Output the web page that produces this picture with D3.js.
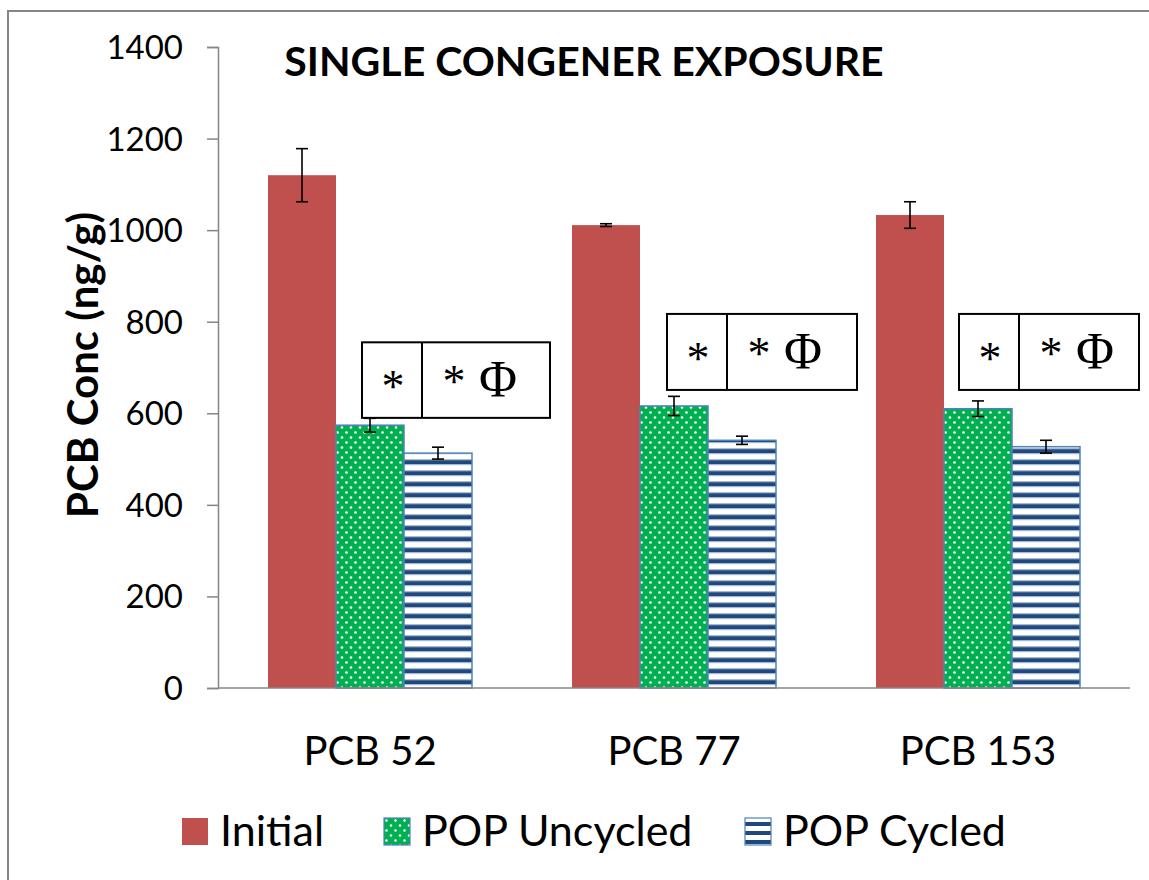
<!DOCTYPE html>
<html>
<head>
<meta charset="utf-8">
<script src="https://cdn.jsdelivr.net/npm/d3@7"></script>
<style>
	body { margin: 0; background: #fff; }
	svg text { font-family: Lato, "Open Sans", sans-serif; fill: #000; }
</style>
</head>
<body>
<div id="chart"></div>
<script>
var categories = ["PCB 52", "PCB 77", "PCB 153"];
var seriesNames = ["Initial", "POP Uncycled", "POP Cycled"];
var initialVals = [1120, 1011, 1033];
var uncycledVals = [574, 616, 610];
var cycledVals = [513, 541, 527];
var initialErr = [58, 3, 29];
var uncycledErr = [15, 21, 17];
var cycledErr = [13, 9, 14];
var yTicks = [0, 200, 400, 600, 800, 1000, 1200, 1400];
// significance boxes: left cell and right cell text
var boxLeft = ["*", "*", "*"];
var boxRight = ["*", "*", "*"];
var boxSymbol = ["\u03A6", "\u03A6", "\u03A6"];
var boxLow = [590, 651, 651];
var boxHigh = [755, 817, 817];

var W = 1149, H = 880;
var colors = ["#C0504D", "url(#dots)", "url(#stripes)"];
var swatchFill = ["#C0504D", "url(#dotsLeg)", "url(#stripesLeg)"];
var serif = "'Liberation Serif', 'DejaVu Serif', serif";

var svg = d3.select("#chart").append("svg")
	.attr("width", W)
	.attr("height", H);

// patterns
var defs = svg.append("defs");
var dots = defs.append("pattern")
	.attr("id", "dots")
	.attr("patternUnits", "userSpaceOnUse")
	.attr("width", 9).attr("height", 10);
dots.append("rect").attr("width", 9).attr("height", 10).attr("fill", "#00B050");
dots.append("circle").attr("cx", 2.5).attr("cy", 2.5).attr("r", 1.3).attr("fill", "#fff");
dots.append("circle").attr("cx", 7).attr("cy", 7.5).attr("r", 1.3).attr("fill", "#fff");

var stripes = defs.append("pattern")
	.attr("id", "stripes")
	.attr("patternUnits", "userSpaceOnUse")
	.attr("y", 4)
	.attr("width", 10).attr("height", 11);
stripes.append("rect").attr("width", 10).attr("height", 11).attr("fill", "#fff");
stripes.append("rect").attr("y", 4).attr("width", 10).attr("height", 1.2).attr("fill", "#A7B9D0");
stripes.append("rect").attr("y", 5.2).attr("width", 10).attr("height", 3.8).attr("fill", "#1F497D");
stripes.append("rect").attr("y", 9).attr("width", 10).attr("height", 1.2).attr("fill", "#A7B9D0");

var dotsLeg = defs.append("pattern")
	.attr("id", "dotsLeg")
	.attr("patternUnits", "userSpaceOnUse")
	.attr("width", 9).attr("height", 10);
dotsLeg.append("rect").attr("width", 9).attr("height", 10).attr("fill", "#00B050");
dotsLeg.append("circle").attr("cx", 2.5).attr("cy", 2.5).attr("r", 1.2).attr("fill", "#fff");
dotsLeg.append("circle").attr("cx", 7).attr("cy", 7.5).attr("r", 1.2).attr("fill", "#fff");

var stripesLeg = defs.append("pattern")
	.attr("id", "stripesLeg")
	.attr("patternUnits", "userSpaceOnUse")
	.attr("y", 1)
	.attr("width", 10).attr("height", 9);
stripesLeg.append("rect").attr("width", 10).attr("height", 9).attr("fill", "#fff");
stripesLeg.append("rect").attr("y", 3).attr("width", 10).attr("height", 4).attr("fill", "#1F497D");

// outer frame
svg.append("rect")
	.attr("x", 8).attr("y", 11)
	.attr("width", W + 50).attr("height", H + 50)
	.attr("fill", "none")
	.attr("stroke", "#868686")
	.attr("stroke-width", 2);

// scales
var x0 = d3.scaleBand().domain(categories).range([218, 1130]);
var x1 = d3.scaleBand().domain(seriesNames).range([50, x0.bandwidth() - 50]);
var y = d3.scaleLinear().domain([0, 1400]).range([688, 47]);

var rows = categories.map(function(c, i) {
	return {
		cat: c,
		vals: [
			{ s: seriesNames[0], v: initialVals[i], e: initialErr[i], k: 0 },
			{ s: seriesNames[1], v: uncycledVals[i], e: uncycledErr[i], k: 1 },
			{ s: seriesNames[2], v: cycledVals[i], e: cycledErr[i], k: 2 }
		]
	};
});

// y axis
var yAxis = svg.append("g")
	.attr("transform", "translate(218,0)")
	.call(d3.axisLeft(y).tickValues(yTicks).tickFormat(d3.format("d")).tickSize(11).tickPadding(24));
yAxis.select(".domain").attr("stroke", "#868686").attr("stroke-width", 1.5);
yAxis.selectAll(".tick line").attr("stroke", "#868686").attr("stroke-width", 1.5);
yAxis.selectAll(".tick text")
	.style("font-family", "Lato, sans-serif")
	.style("font-size", "33px")
	.attr("dy", "0.35em");

// bars
var groups = svg.selectAll(".grp")
	.data(rows)
	.enter().append("g")
	.attr("class", "grp")
	.attr("transform", function(d) { return "translate(" + x0(d.cat) + ",0)"; });

groups.selectAll("rect")
	.data(function(d) { return d.vals; })
	.enter().append("rect")
	.attr("x", function(d) { return x1(d.s); })
	.attr("y", function(d) { return y(d.v); })
	.attr("width", x1.bandwidth())
	.attr("height", function(d) { return y(0) - y(d.v); })
	.attr("fill", function(d) { return colors[d.k]; })
	.attr("stroke", function(d) { return d.k === 0 ? "none" : "#4F81BD"; })
	.attr("stroke-width", 1.5);

// x axis line
svg.append("line")
	.attr("x1", 218).attr("x2", 1130)
	.attr("y1", y(0)).attr("y2", y(0))
	.attr("stroke", "#868686")
	.attr("stroke-width", 1.5);

// error bars
var eb = groups.selectAll(".err")
	.data(function(d) { return d.vals; })
	.enter().append("g")
	.attr("class", "err")
	.attr("stroke", "#000")
	.attr("stroke-width", 1.6);
eb.append("line")
	.attr("x1", function(d) { return x1(d.s) + x1.bandwidth() / 2; })
	.attr("x2", function(d) { return x1(d.s) + x1.bandwidth() / 2; })
	.attr("y1", function(d) { return y(d.v + d.e); })
	.attr("y2", function(d) { return y(d.v - d.e); });
eb.selectAll(".cap")
	.data(function(d) { return [d.v + d.e, d.v - d.e].map(function(t) { return { s: d.s, t: t }; }); })
	.enter().append("line")
	.attr("x1", function(d) { return x1(d.s) + x1.bandwidth() / 2 - 6; })
	.attr("x2", function(d) { return x1(d.s) + x1.bandwidth() / 2 + 6; })
	.attr("y1", function(d) { return y(d.t); })
	.attr("y2", function(d) { return y(d.t); });

// significance boxes
var boxX = [144, 145, 133];
var boxW = [188, 190, 180];
categories.forEach(function(c, i) {
	var bx = x0(c) + boxX[i];
	var by = y(boxHigh[i]);
	var bh = y(boxLow[i]) - y(boxHigh[i]);
	var g = svg.append("g");
	g.append("rect")
		.attr("x", bx).attr("y", by)
		.attr("width", boxW[i]).attr("height", bh)
		.attr("fill", "#fff")
		.attr("stroke", "#000")
		.attr("stroke-width", 2);
	g.append("line")
		.attr("x1", bx + 60).attr("x2", bx + 60)
		.attr("y1", by).attr("y2", by + bh)
		.attr("stroke", "#000")
		.attr("stroke-width", 2);
	g.append("text")
		.attr("x", bx + 31).attr("y", by + bh / 2 + 22)
		.attr("text-anchor", "middle")
		.style("font-family", serif)
		.style("font-size", "46px")
		.text(boxLeft[i]);
	g.append("text")
		.attr("x", bx + 92).attr("y", by + bh / 2 + 17)
		.attr("text-anchor", "middle")
		.style("font-family", serif)
		.style("font-size", "46px")
		.text(boxRight[i]);
	g.append("text")
		.attr("x", bx + 136).attr("y", by + bh / 2 + 17)
		.attr("text-anchor", "middle")
		.style("font-family", serif)
		.style("font-size", "52px")
		.text(boxSymbol[i]);
});

// category labels
svg.selectAll(".cat")
	.data(categories)
	.enter().append("text")
	.attr("class", "cat")
	.attr("x", function(d) { return x0(d) + x0.bandwidth() / 2; })
	.attr("y", 765)
	.attr("text-anchor", "middle")
	.style("font-size", "40px")
	.text(function(d) { return d; });

// title
svg.append("text")
	.attr("x", 584).attr("y", 76)
	.attr("text-anchor", "middle")
	.style("font-size", "41px")
	.style("font-weight", "bold")
	.text("SINGLE CONGENER EXPOSURE");

// y label
svg.append("text")
	.attr("transform", "translate(98,365) rotate(-90)")
	.attr("text-anchor", "middle")
	.style("font-size", "42px")
	.style("font-weight", "bold")
	.text("PCB Conc (ng/g)");

// legend
var legX = [182, 384, 745];
var leg = svg.selectAll(".leg")
	.data(seriesNames)
	.enter().append("g")
	.attr("class", "leg")
	.attr("transform", function(d, i) { return "translate(" + legX[i] + ",818)"; });
leg.append("rect")
	.attr("width", 26).attr("height", 27)
	.attr("fill", function(d, i) { return swatchFill[i]; })
	.attr("stroke", function(d, i) { return i === 0 ? "none" : "#4F81BD"; })
	.attr("stroke-width", 1.2);
leg.append("text")
	.attr("x", 38).attr("y", 28)
	.style("font-size", "43px")
	.text(function(d) { return d; });
</script>
</body>
</html>
